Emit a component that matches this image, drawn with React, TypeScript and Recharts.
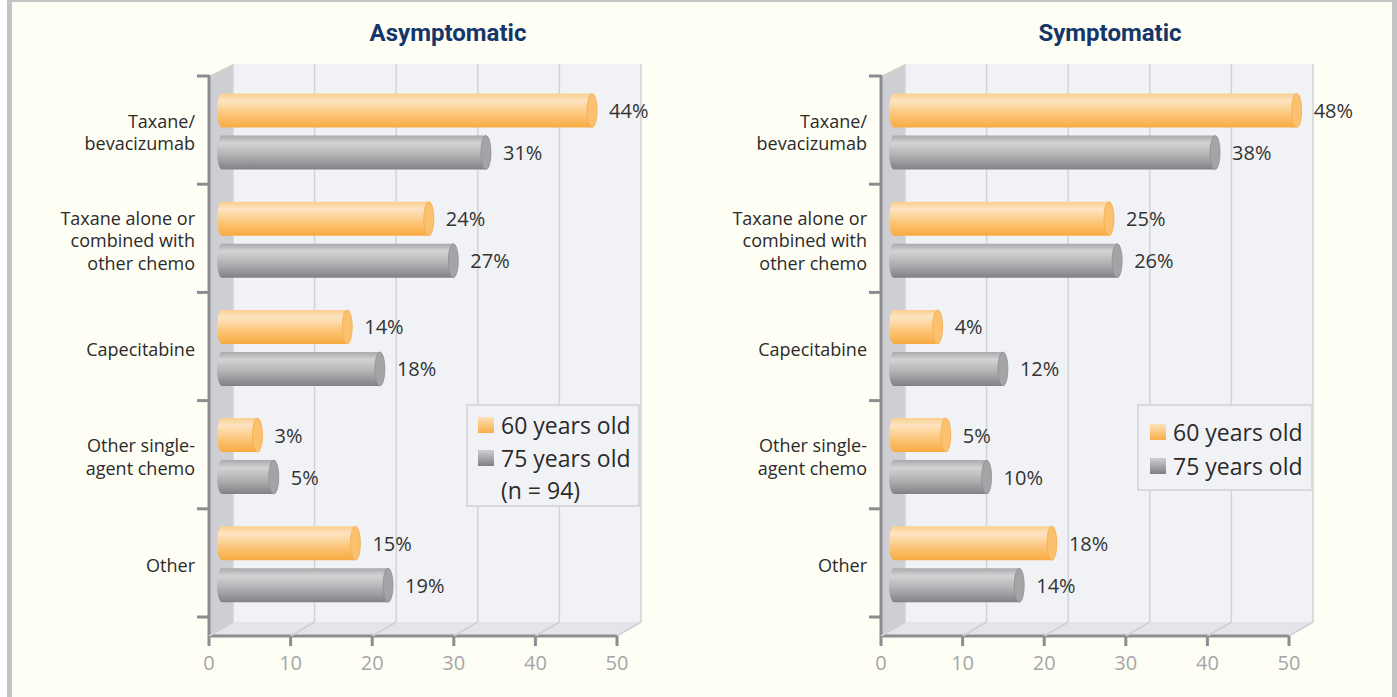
import { BarChart, Bar, XAxis, YAxis, CartesianGrid, LabelList } from "recharts";

const categories = [
  "Taxane/\nbevacizumab",
  "Taxane alone or\ncombined with\nother chemo",
  "Capecitabine",
  "Other single-\nagent chemo",
  "Other"
];
const xTicks = [0, 10, 20, 30, 40, 50];
const asymptomatic60 = [44, 24, 14, 3, 15];
const asymptomatic75 = [31, 27, 18, 5, 19];
const symptomatic60 = [48, 25, 4, 5, 18];
const symptomatic75 = [38, 26, 12, 10, 14];
const legendLabels = ["60 years old", "75 years old"];
const asymptomaticNote = "(n = 94)";

// panel geometry (panel-relative px)
const W = 690;
const H = 697;
const PL = 233; // back plane, value 0
const PR = 641; // back plane, value 50
const PT = 76;
const PB = 617;
const DX = 24;
const BACK_TOP = 64;
const BACK_BOTTOM = 622;
const FRONT_Y = 636;
const FL = PL - DX;

const FONT = "'Open Sans', 'Noto Sans', sans-serif";
const AXIS_GREY = "#8d8d91";

function cylinder(gradId: string, cap: string, capStroke: string) {
  return (props: any) => {
    const { x, y, width, height } = props;
    const yy = y + 1.5;
    const r = height / 2;
    const rx = 5;
    const x0 = x - 11;
    const x1 = x + width;
    return (
      <g>
        <path
          d={`M${x0},${yy} L${x1},${yy} L${x1},${yy + height} L${x0},${yy + height} A${rx},${r} 0 0 1 ${x0},${yy} Z`}
          fill={`url(#${gradId})`}
        />
        <ellipse cx={x1} cy={yy + r} rx={rx} ry={r} fill={cap} stroke={capStroke} strokeWidth={0.8} />
      </g>
    );
  };
}

function valueLabel(props: any) {
  const { x, y, width, height, value } = props;
  return (
    <text
      x={x + width + 17}
      y={y + height / 2 + 1.5}
      dominantBaseline="central"
      fontFamily={FONT}
      fontSize={20}
      fill="#333"
    >
      {value}%
    </text>
  );
}

function CategoryTick(props: any) {
  const lines = String(props.payload.value).split("\n");
  const lh = 22.5;
  const start = props.y + 2 - ((lines.length - 1) * lh) / 2;
  return (
    <text textAnchor="end" fontFamily={FONT} fontSize={18} fill="#2b2b2b">
      {lines.map((l, i) => (
        <tspan key={i} x={FL - 14} y={start + i * lh} dominantBaseline="central">
          {l}
        </tspan>
      ))}
    </text>
  );
}

function ValueTick(props: any) {
  const fx = props.x - DX;
  return (
    <g>
      <line x1={fx} y1={FRONT_Y} x2={fx} y2={FRONT_Y + 10} stroke={AXIS_GREY} strokeWidth={3} />
      <text x={fx} y={FRONT_Y + 26} textAnchor="middle" dominantBaseline="central" fontFamily={FONT} fontSize={20} fill="#a6a6a8">
        {props.payload.value}
      </text>
    </g>
  );
}

function gridLine(props: any) {
  const { x1, y1, y2 } = props;
  return (
    <g key={props.key}>
      <line x1={x1} y1={y1 - (PT - BACK_TOP)} x2={x1} y2={y2 + (BACK_BOTTOM - PB)} stroke="#d2d3d6" strokeWidth={1.5} />
      <line x1={x1} y1={y2 + (BACK_BOTTOM - PB)} x2={x1 - DX} y2={FRONT_Y} stroke="#cfd0d3" strokeWidth={1.5} />
    </g>
  );
}

function Frame() {
  const ticks = categories.map((_, i) => PT + (i * (PB - PT)) / categories.length).concat([PB]);
  return (
    <svg width={W} height={H} style={{ position: "absolute", left: 0, top: 0 }}>
      <rect x={PL} y={BACK_TOP} width={PR - PL} height={BACK_BOTTOM - BACK_TOP} fill="#f1f2f5" />
      <polygon points={`${FL},${PT} ${PL},${BACK_TOP} ${PL},${BACK_BOTTOM} ${FL},${FRONT_Y}`} fill="#cecfd2" />
      <polygon points={`${PL},${BACK_BOTTOM} ${PR},${BACK_BOTTOM} ${PR - DX},${FRONT_Y} ${FL},${FRONT_Y}`} fill="#e4e5e8" />
      <line x1={FL} y1={PT - 1} x2={FL} y2={FRONT_Y + 1} stroke={AXIS_GREY} strokeWidth={3} />
      <line x1={FL} y1={FRONT_Y} x2={PR - DX} y2={FRONT_Y} stroke={AXIS_GREY} strokeWidth={3} />
      {ticks.map((t, i) => (
        <line key={i} x1={FL - 12} y1={t} x2={FL} y2={t} stroke={AXIS_GREY} strokeWidth={3} />
      ))}
    </svg>
  );
}

function Panel({
  id,
  left,
  title,
  titleX,
  s60,
  s75,
  note,
  legend
}: {
  id: string;
  left: number;
  title: string;
  titleX: number;
  s60: number[];
  s75: number[];
  note?: string;
  legend: { x: number; y: number; w: number; h: number; rows: number[] };
}) {
  const data = categories.map((name, i) => ({ name, a: s60[i], b: s75[i] }));
  const legendText = {
    position: "absolute" as const,
    left: 501,
    fontFamily: FONT,
    fontSize: 23,
    lineHeight: "24px",
    color: "#2b2b2b",
    whiteSpace: "nowrap" as const
  };
  return (
    <div style={{ position: "absolute", left, top: 0, width: W, height: H }}>
      <div
        style={{
          position: "absolute",
          left: titleX - 150,
          width: 300,
          top: 18,
          textAlign: "center",
          fontFamily: "Roboto, sans-serif",
          fontWeight: 700,
          fontSize: 24,
          lineHeight: "30px",
          color: "#14366a"
        }}
      >
        {title}
      </div>
      <Frame />
      <div style={{ position: "absolute", left: 0, top: 0 }}>
        <BarChart
          width={W}
          height={H}
          data={data}
          layout="vertical"
          margin={{ top: PT, right: W - PR, left: 0, bottom: H - PB - 60 }}
          barSize={34}
          barGap={8}
        >
          <defs>
            <linearGradient id={`${id}-org`} x1="0" y1="0" x2="0" y2="1">
              <stop offset="0%" stopColor="#fbcf8e" />
              <stop offset="22%" stopColor="#fde4c2" />
              <stop offset="60%" stopColor="#fcc67b" />
              <stop offset="100%" stopColor="#f8aa40" />
            </linearGradient>
            <linearGradient id={`${id}-gry`} x1="0" y1="0" x2="0" y2="1">
              <stop offset="0%" stopColor="#a9a9ac" />
              <stop offset="22%" stopColor="#d3d3d5" />
              <stop offset="60%" stopColor="#b0b0b3" />
              <stop offset="100%" stopColor="#818185" />
            </linearGradient>
          </defs>
          <CartesianGrid horizontal={false} vertical={gridLine} fill="none" />
          <XAxis
            type="number"
            domain={[0, 50]}
            ticks={xTicks}
            interval={0}
            height={60}
            axisLine={false}
            tickLine={false}
            tick={ValueTick}
          />
          <YAxis
            type="category"
            dataKey="name"
            width={PL}
            axisLine={false}
            tickLine={false}
            interval={0}
            tick={CategoryTick}
          />
          <Bar dataKey="a" isAnimationActive={false} shape={cylinder(`${id}-org`, "#fcc16f", "#f3ad4c")}>
            <LabelList dataKey="a" content={valueLabel} />
          </Bar>
          <Bar dataKey="b" isAnimationActive={false} shape={cylinder(`${id}-gry`, "#a4a4a7", "#909094")}>
            <LabelList dataKey="b" content={valueLabel} />
          </Bar>
        </BarChart>
      </div>
      <div
        style={{
          position: "absolute",
          left: legend.x,
          top: legend.y,
          width: legend.w,
          height: legend.h,
          boxSizing: "border-box",
          background: "#f1f2f5",
          border: "2px solid #d9d9db"
        }}
      />
      {legendLabels.map((lab, i) => (
        <div key={lab}>
          <div
            style={{
              position: "absolute",
              left: 478,
              top: legend.rows[i] - 8,
              width: 16,
              height: 16,
              background:
                i === 0
                  ? "linear-gradient(#fde2bd, #f9ad45)"
                  : "linear-gradient(#d0d0d2, #7f7f83)"
            }}
          />
          <div style={{ ...legendText, top: legend.rows[i] - 12 }}>{lab}</div>
        </div>
      ))}
      {note && <div style={{ ...legendText, top: legend.rows[1] + 32 - 12 }}>{note}</div>}
    </div>
  );
}

export default function App() {
  return (
    <div style={{ position: "absolute", left: 0, top: 0, width: 1397, height: 697, background: "#fff", overflow: "hidden" }}>
      <div style={{ position: "absolute", left: 7, top: 0, width: 5, height: 697, background: "#c3c3c5" }} />
      <div style={{ position: "absolute", left: 12, top: 0, width: 1380, height: 2, background: "#c3c3c5" }} />
      <div style={{ position: "absolute", left: 1392, top: 0, width: 5, height: 697, background: "#c3c3c5" }} />
      <div style={{ position: "absolute", left: 12, top: 2, width: 1380, height: 695, background: "#fefef5" }}>
        <div style={{ position: "absolute", left: -12, top: -2, width: 1397, height: 697 }}>
          <Panel
            id="asym"
            left={0}
            title="Asymptomatic"
            titleX={448}
            s60={asymptomatic60}
            s75={asymptomatic75}
            note={asymptomaticNote}
            legend={{ x: 466, y: 404, w: 174, h: 103, rows: [425, 458] }}
          />
          <Panel
            id="sym"
            left={672}
            title="Symptomatic"
            titleX={438}
            s60={symptomatic60}
            s75={symptomatic75}
            legend={{ x: 465, y: 404, w: 176, h: 87, rows: [432, 466] }}
          />
        </div>
      </div>
    </div>
  );
}
